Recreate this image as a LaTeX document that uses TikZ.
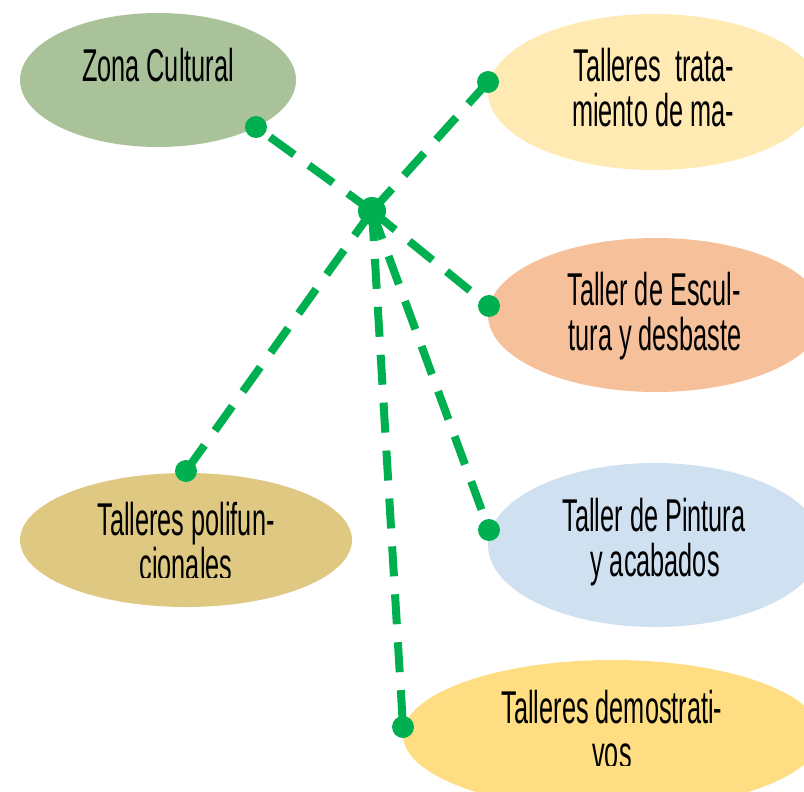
\documentclass[tikz,border=0pt]{standalone}
\usepackage{fontspec}
\setmainfont[FakeStretch=0.55]{Liberation Sans}
\usetikzlibrary{shapes.geometric}
\definecolor{lgreen}{HTML}{00B050}
\definecolor{cZona}{HTML}{A9C29A}
\definecolor{cTrata}{HTML}{FFEAB4}
\definecolor{cEsc}{HTML}{F5C09A}
\definecolor{cPoli}{HTML}{DFC881}
\definecolor{cPint}{HTML}{CFE0F1}
\definecolor{cDem}{HTML}{FFDD82}
\begin{document}
\begin{tikzpicture}[x=1pt,y=-1pt,
  bubble/.style={ellipse, draw=none, inner sep=0pt},
  txt/.style={anchor=base, inner sep=0pt, font=\fontsize{46}{48}\selectfont, text=black},
  link/.style={draw=lgreen, line width=8pt, dash pattern=on 30pt off 18pt},
  enddot/.style={fill=lgreen}]
\useasboundingbox (0,0) rectangle (804,792);
\clip (0,0) rectangle (804,792);
% bubbles
\node[bubble, fill=cZona, minimum width=276pt, minimum height=134pt] (zona) at (158,80) {};
\node[bubble, fill=cTrata, minimum width=332pt, minimum height=156pt] (trata) at (654,92) {};
\node[bubble, fill=cEsc, minimum width=336pt, minimum height=154pt] (esc) at (656,315) {};
\node[bubble, fill=cPoli, minimum width=332pt, minimum height=134pt] (poli) at (186,540) {};
\node[bubble, fill=cPint, minimum width=334pt, minimum height=164pt] (pint) at (655,545) {};
\node[bubble, fill=cDem, minimum width=418pt, minimum height=150pt] (dem) at (612,735) {};
% texts
\node[txt] (tz) at (158,82) {Zona Cultural};
\node[txt] (tt1) at (654,82) {Talleres~ trata-};
\node[txt] (tt2) at (653,126) {miento de ma-};
\node[txt] (te1) at (654,305) {Taller de Escul-};
\node[txt] (te2) at (655,350) {tura y desbaste};
\node[txt] (tp1) at (186,535) {Talleres polifun-};
\node[txt] (ti1) at (654,531) {Taller de Pintura};
\node[txt] (ti2) at (655,576) {y acabados};
\node[txt] (td1) at (612,723) {Talleres demostrati-};
\begin{scope}
\clip (0,0) rectangle (804,577);
\node[txt] (tp2) at (186,580) {cionales};
\end{scope}
\begin{scope}
\clip (0,0) rectangle (804,765);
\node[txt] (td2) at (612,768) {vos};
\end{scope}
% hub and ends
\coordinate (hub) at (372,211);
\coordinate (ez) at (256,127);
\coordinate (et) at (488,82);
\coordinate (ee) at (489,306);
\coordinate (ep) at (186,471);
\coordinate (ei) at (489,530);
\coordinate (ed) at (403,727);
\draw[link] (hub) -- (ez);
\draw[link] (hub) -- (et);
\draw[link] (hub) -- (ee);
\draw[link] (hub) -- (ep);
\draw[link] (hub) -- (ei);
\draw[link] (hub) -- (ed);
\fill[enddot] (hub) circle (14pt);
\foreach \p in {ez,et,ee,ep,ei,ed} \fill[enddot] (\p) circle (11pt);
\end{tikzpicture}
\end{document}
